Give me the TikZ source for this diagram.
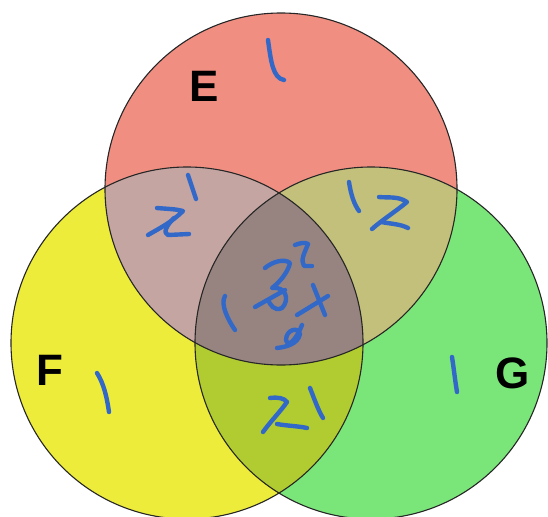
\documentclass[tikz,border=0pt]{standalone}
\usepackage{fontspec}
\setmainfont{Liberation Sans}
\definecolor{cE}{RGB}{240,142,130}
\definecolor{cF}{RGB}{237,236,58}
\definecolor{cG}{RGB}{122,230,122}
\definecolor{cEF}{RGB}{196,165,162}
\definecolor{cEG}{RGB}{194,192,122}
\definecolor{cFG}{RGB}{176,204,48}
\definecolor{cEFG}{RGB}{151,132,128}
\definecolor{ink}{RGB}{50,105,200}
\begin{document}
\begin{tikzpicture}[x=1pt,y=-1pt,
  outline/.style={draw=black!85,line width=1.1pt},
  pen/.style={draw=ink,line width=4.4pt,line cap=round,line join=round},
  setlabel/.style={font=\fontsize{44}{44}\selectfont\bfseries,inner sep=0pt}]
\useasboundingbox (0,0) rectangle (548,516);
\coordinate (E) at (281,189);
\coordinate (F) at (187,343);
\coordinate (G) at (371,343);
\def\R{176}
\fill[cE] (E) circle (\R);
\fill[cF] (F) circle (\R);
\fill[cG] (G) circle (\R);
\begin{scope}\clip (E) circle (\R); \fill[cEF] (F) circle (\R); \end{scope}
\begin{scope}\clip (E) circle (\R); \fill[cEG] (G) circle (\R); \end{scope}
\begin{scope}\clip (F) circle (\R); \fill[cFG] (G) circle (\R); \end{scope}
\begin{scope}\clip (E) circle (\R); \clip (F) circle (\R); \fill[cEFG] (G) circle (\R); \end{scope}
\draw[outline] (E) circle (\R);
\draw[outline] (F) circle (\R);
\draw[outline] (G) circle (\R);
\node[setlabel] (lE) at (204,86) {E};
\node[setlabel] (lF) at (50,370) {F};
\node[setlabel] (lG) at (513,373) {G};
% handwriting: E only
\draw[pen] (268,40) .. controls (271,62) and (273,78) .. (284,80);
% E and F
\draw[pen] (188,175) -- (196,199);
\draw[pen] (157,208) .. controls (168,209) and (176,209) .. (183,211)
  .. controls (172,222) and (160,228) .. (148,235);
\draw[pen] (174,218) .. controls (166,226) and (163,233) .. (168,235) -- (189,234);
% E and G
\draw[pen] (349,182) .. controls (351,195) and (354,204) .. (359,211);
\draw[pen] (379,197) .. controls (390,198) and (398,196) .. (407,202)
  .. controls (395,212) and (382,220) .. (372,229);
\draw[pen] (381,222) .. controls (392,224) and (400,224) .. (408,228);
% centre
\draw[pen] (225,296) .. controls (220,304) and (228,320) .. (235,330);
\draw[pen] (265,268) .. controls (272,262) and (284,258) .. (290,263)
  .. controls (288,272) and (280,282) .. (272,288)
  .. controls (286,286) and (290,300) .. (282,308)
  .. controls (274,312) and (270,304) .. (268,300);
\draw[pen] (255,307) -- (285,290);
\draw[pen] (295,245) .. controls (300,243) and (305,242) .. (308,244)
  .. controls (305,252) and (300,260) .. (304,266) -- (312,266);
\draw[pen] (297,315) -- (328,296);
\draw[pen] (313,285) -- (325,315);
\draw[pen] (302,325) .. controls (296,340) and (288,348) .. (286,340)
  .. controls (286,330) and (298,326) .. (300,334)
  .. controls (298,344) and (286,347) .. (277,348);
% F and G
\draw[pen] (270,398) .. controls (278,397) and (284,398) .. (287,402)
  .. controls (280,412) and (270,422) .. (263,432);
\draw[pen] (277,424) .. controls (288,426) and (298,426) .. (307,428);
\draw[pen] (310,388) .. controls (314,398) and (318,410) .. (323,418);
% F only, G only
\draw[pen] (97,373) .. controls (104,384) and (107,398) .. (109,412);
\draw[pen] (452,357) .. controls (454,370) and (455,380) .. (457,392);
\end{tikzpicture}
\end{document}
